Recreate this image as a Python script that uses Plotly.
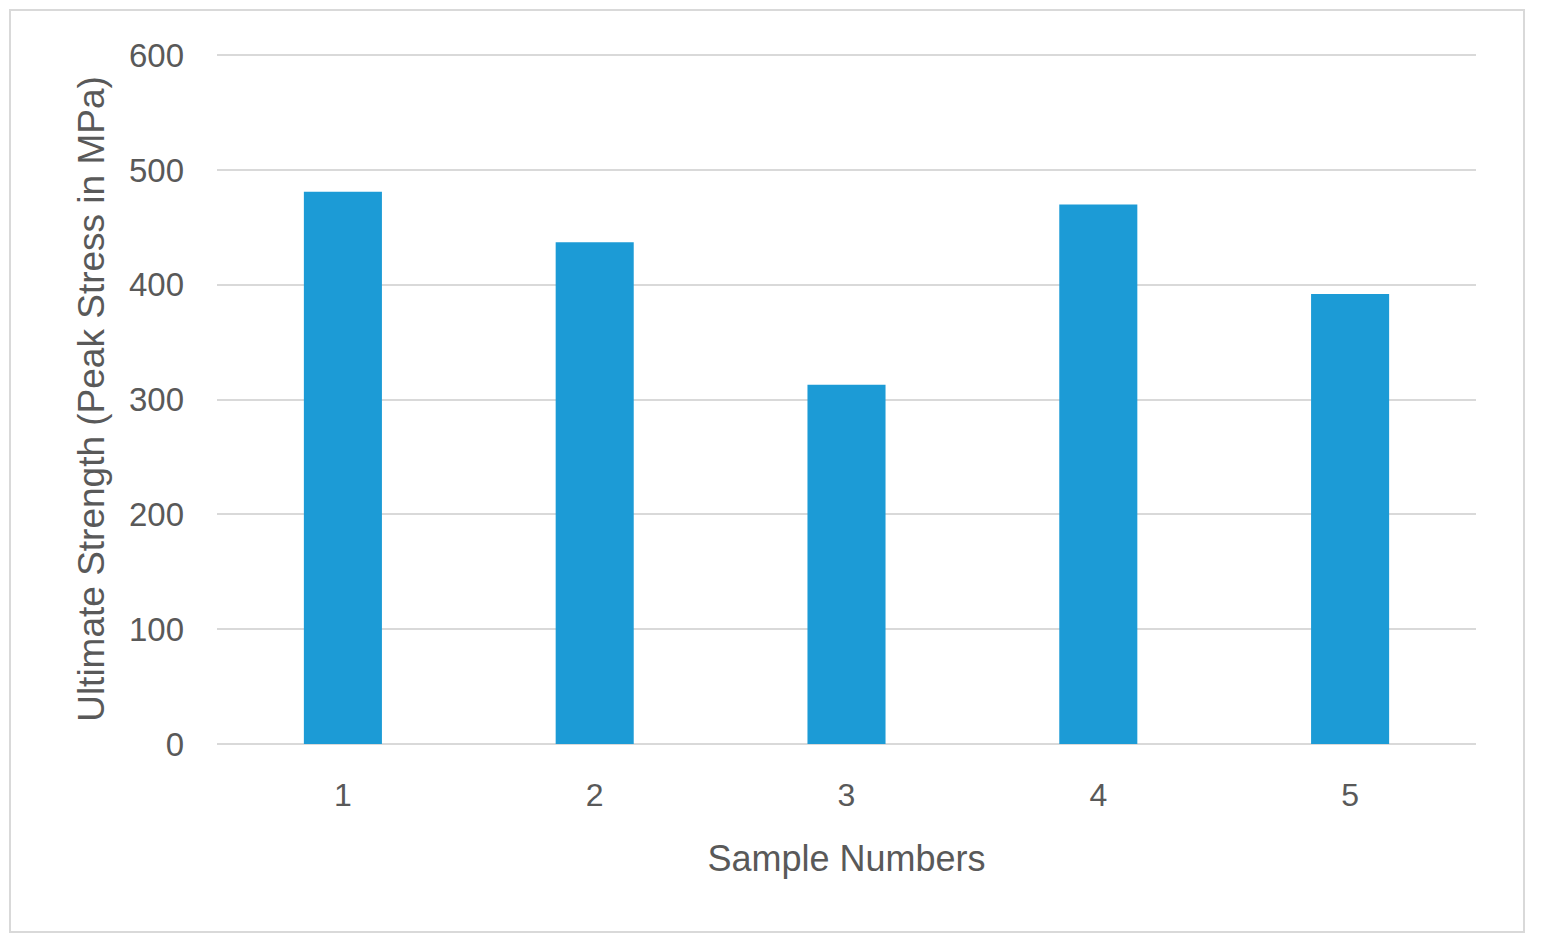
import plotly.graph_objects as go

samples = ["1", "2", "3", "4", "5"]
strength = [481, 437, 313, 470, 392]
y_ticks = [0, 100, 200, 300, 400, 500, 600]

BAR = "#1c9bd6"
GRID = "#d9d9d9"
TXT = "#595959"
FONT = "Liberation Sans, Arial, sans-serif"

fig = go.Figure(go.Bar(x=samples, y=strength, marker=dict(color=BAR, line=dict(width=0))))

# page body has an 8px margin; figure placed at (8, 8) in the window
W, H = 1526, 932
L, R, T, B = 209, 58, 46, 196
pw, ph = W - L - R, H - T - B

fig.update_layout(
    width=W, height=H,
    margin=dict(l=L, r=R, t=T, b=B, pad=0),
    paper_bgcolor="white", plot_bgcolor="white",
    bargap=0.69,
    showlegend=False,
    font=dict(family=FONT, color=TXT, size=32),
    shapes=[dict(type="rect", xref="paper", yref="paper",
                 x0=(2 - L) / pw, x1=(1516 - L) / pw,
                 y0=(H - B - 924) / ph, y1=(H - B - 2) / ph,
                 line=dict(color=GRID, width=2), fillcolor="rgba(0,0,0,0)", layer="below")],
)
fig.update_xaxes(
    type="category", showgrid=False, showline=False, zeroline=False,
    ticks="", tickfont=dict(size=32, color=TXT), ticklabelstandoff=29,
    title=dict(text="Sample Numbers", font=dict(size=36, color=TXT), standoff=33),
)
fig.update_yaxes(
    range=[0, 601], tickvals=y_ticks, showgrid=True, gridcolor=GRID, gridwidth=2,
    zeroline=True, zerolinecolor=GRID, zerolinewidth=2, showline=False, ticks="",
    tickfont=dict(size=33, color=TXT), ticklabelstandoff=32,
    title=dict(text="Ultimate Strength (Peak Stress in MPa)", font=dict(size=37, color=TXT), standoff=12),
)

fig.write_html("out.html")
